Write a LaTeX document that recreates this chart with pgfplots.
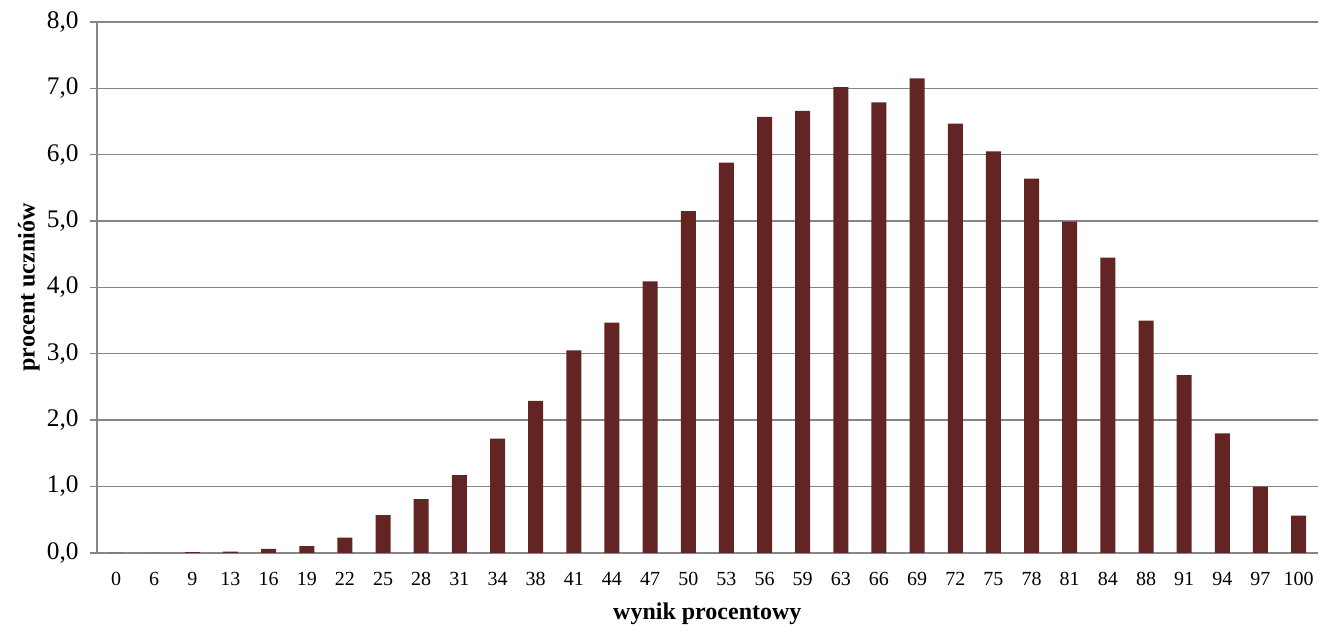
\documentclass[border=0pt]{standalone}
\usepackage{fontspec}
\setmainfont{Liberation Serif}
\usepackage{pgfplots}
\pgfplotsset{compat=1.18}
\definecolor{barc}{HTML}{632523}
\definecolor{gridc}{HTML}{868686}
\begin{document}
\begin{tikzpicture}
\path[use as bounding box] (-72.75pt,-55.25pt) rectangle (927.25pt,414.75pt);
\begin{axis}[
  at={(0,0)}, anchor=south west,
  scale only axis, width=915.75pt, height=398.25pt,
  xmin=-0.5, xmax=31.5, ymin=0, ymax=8,
  axis x line*=bottom, axis y line*=left,
  axis line style={gridc, line width=1pt, -},
  ymajorgrids, grid style={gridc, line width=1pt},
  ytick={0,1,...,8},
  xtick=data,
  xticklabels={0,6,9,13,16,19,22,25,28,31,34,38,41,44,47,50,53,56,59,63,66,69,72,75,78,81,84,88,91,94,97,100},
  x tick style={draw=none},
  y tick style={gridc, line width=1pt},
  tick align=outside, major tick length=5.25pt,
  /pgf/number format/assume math mode=true,
  /pgf/number format/fixed,
  /pgf/number format/fixed zerofill,
  /pgf/number format/precision=1,
  /pgf/number format/use comma,
  yticklabel style={font=\fontsize{19}{22}\selectfont, xshift=-5pt},
  xticklabel style={font=\fontsize{15}{18}\selectfont, yshift=-6pt},
  xlabel={\textbf{wynik procentowy}},
  ylabel={\textbf{procent uczniów}},
  xlabel style={font=\fontsize{18}{21}\selectfont, yshift=-6pt},
  ylabel style={font=\fontsize{18}{21}\selectfont, yshift=-1.5pt},
  ybar, bar width=11.25pt,
]
\addplot[fill=barc, draw=none] coordinates {
(0,0) (1,0) (2,0.01) (3,0.02) (4,0.06) (5,0.10) (6,0.23) (7,0.57) (8,0.81) (9,1.17)
(10,1.72) (11,2.29) (12,3.05) (13,3.47) (14,4.09) (15,5.15) (16,5.88) (17,6.57) (18,6.66) (19,7.02)
(20,6.79) (21,7.15) (22,6.47) (23,6.05) (24,5.64) (25,4.99) (26,4.45) (27,3.50) (28,2.68) (29,1.80)
(30,1.00) (31,0.56)
};
\end{axis}
\end{tikzpicture}
\end{document}
